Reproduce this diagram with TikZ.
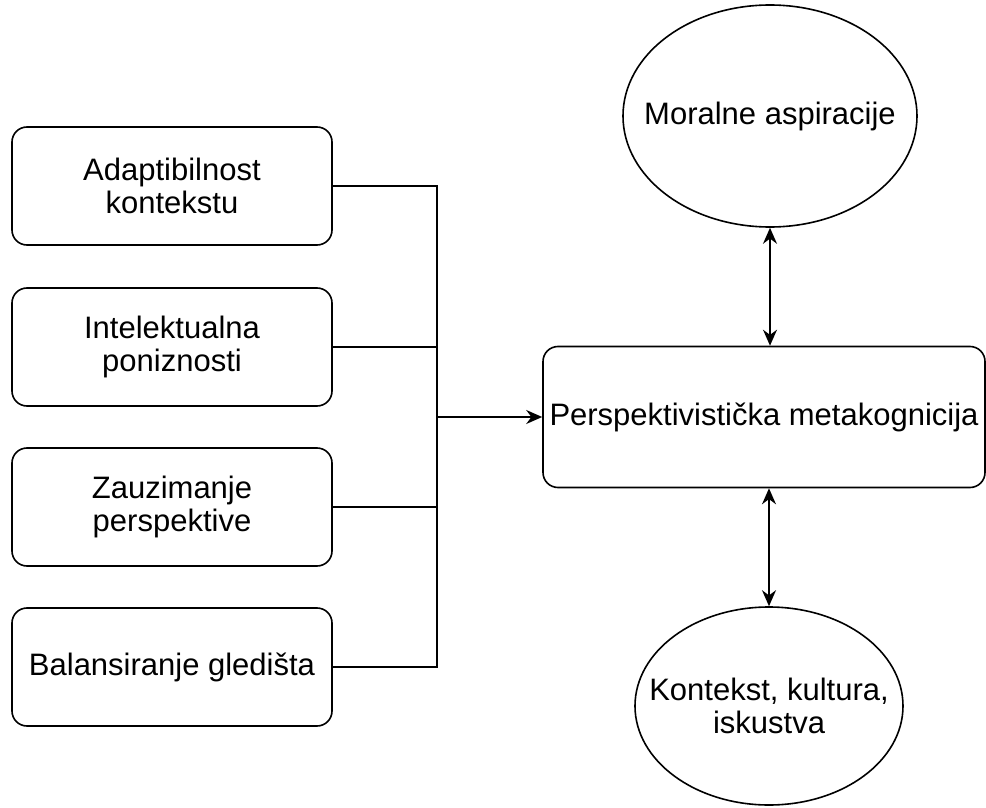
\documentclass[tikz,border=0pt]{standalone}
\usepackage{fontspec}
\setmainfont{Liberation Sans}
\usetikzlibrary{shapes.geometric,positioning,arrows.meta}
\tikzset{>={Stealth[length=8pt,width=7pt]}}
\tikzset{
  factor/.style={draw,rounded corners=7.5pt,minimum width=160pt,minimum height=59pt,align=center,line width=0.8pt},
  core/.style={draw,rounded corners=7.5pt,minimum width=221pt,minimum height=70.5pt,align=center,line width=0.8pt,inner sep=0pt},
  outer/.style={draw,ellipse,inner sep=0pt,line width=0.8pt},
  link/.style={line width=0.8pt}
}

\begin{document}
\begin{tikzpicture}[x=0.5pt,y=-0.5pt,font=\fontsize{15.5}{16.5}\selectfont]
    \useasboundingbox (0,0) rectangle (986,808);

    \node[factor] (adapt) at (172,186) {Adaptibilnost\\kontekstu};
    \node[factor] (ponizn) at (172,347) {Intelektualna\\poniznosti};
    \node[factor] (zauzim) at (172,507) {Zauzimanje\\perspektive};
    \node[factor] (balans) at (172,667) {Balansiranje gledišta};

    \node[core] (metakog) at (764,417) {Perspektivistička metakognicija};
    \node[outer,minimum width=147pt,minimum height=111pt,
      label={[align=center]center:Moralne aspiracije}] (moral) at (770,116) {};
    \node[outer,minimum width=134pt,minimum height=99pt,
      label={[align=center]center:Kontekst, kultura,\\iskustva}] (kontekst) at (769,706) {};

    \coordinate (jn) at (437,417);
    \draw[link] (adapt.east) -| (jn);
    \draw[link] (ponizn.east) -| (jn);
    \draw[link] (zauzim.east) -| (jn);
    \draw[link] (balans.east) -| (jn);
    \draw[link,->] (jn) -- (metakog.west);

    \draw[link,<->] (moral.south) -- (moral.south |- metakog.north);
    \draw[link,<->] (kontekst.north |- metakog.south) -- (kontekst.north);
\end{tikzpicture}
\end{document}
